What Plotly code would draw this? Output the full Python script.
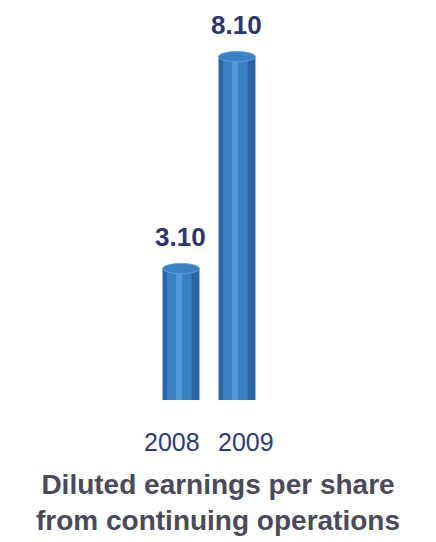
import plotly.graph_objects as go

years = ["2008", "2009"]
eps = [3.10, 8.10]
labels = ["3.10", "8.10"]
year_shift = [-9, 9]  # label nudge so the year texts do not collide

title_lines = ["Diluted earnings per share", "from continuing operations"]

FONT = "Liberation Sans, Arial, sans-serif"
BAR_W = 0.66
CAP_H = 0.12
xpos = list(range(len(years)))

fig = go.Figure()

# base cylinder body
fig.add_trace(go.Bar(x=xpos, y=eps, width=BAR_W, marker=dict(color="#2a66a3", line=dict(width=0)),
                     hoverinfo="skip", showlegend=False))
# lighter middle band for rounded look
fig.add_trace(go.Bar(x=xpos, y=eps, width=0.44, offset=-0.25, marker=dict(color="#3a80c2", line=dict(width=0)),
                     hoverinfo="skip", showlegend=False))
# highlight stripe
fig.add_trace(go.Bar(x=xpos, y=eps, width=0.11, offset=-0.09, marker=dict(color="#4f98d6", line=dict(width=0)),
                     hoverinfo="skip", showlegend=False))

# cylinder caps (computed from data)
for i, v in zip(xpos, eps):
    fig.add_shape(type="circle", xref="x", yref="y",
                  x0=i - BAR_W / 2, x1=i + BAR_W / 2, y0=v - CAP_H, y1=v + CAP_H,
                  fillcolor="#3b82c4", line=dict(color="#5a9fd8", width=1), layer="above")

# value labels
for i, v, lab in zip(xpos, eps, labels):
    fig.add_annotation(x=i, y=v + CAP_H, text=f"<b>{lab}</b>", showarrow=False,
                       xref="x", yref="y", xanchor="center", yanchor="bottom", yshift=10,
                       font=dict(family=FONT, size=26, color="#2b3670"))

# year labels
for i, yr, sh in zip(xpos, years, year_shift):
    fig.add_annotation(x=i, y=0, text=yr, showarrow=False, xref="x", yref="paper",
                       xanchor="center", yanchor="middle", xshift=sh, yshift=-42,
                       font=dict(family=FONT, size=25, color="#2d3a78"))

fig.update_layout(
    width=436, height=542,
    margin=dict(l=0, r=0, t=30, b=142),
    barmode="overlay",
    paper_bgcolor="white", plot_bgcolor="white",
    xaxis=dict(range=[-3.232, 4.554], showgrid=False, zeroline=False, showline=False,
               showticklabels=False, ticks="", fixedrange=True),
    yaxis=dict(range=[0, 8.73], visible=False, fixedrange=True),
    font=dict(family=FONT),
)

fig.add_annotation(text="<b>" + "<br>".join(title_lines) + "</b>", xref="paper", yref="paper",
                   x=0.5, y=0, xanchor="center", yanchor="middle", yshift=-102, showarrow=False,
                   align="center", font=dict(family=FONT, size=28, color="#4a4a5c"))

fig.write_html("out.html")
